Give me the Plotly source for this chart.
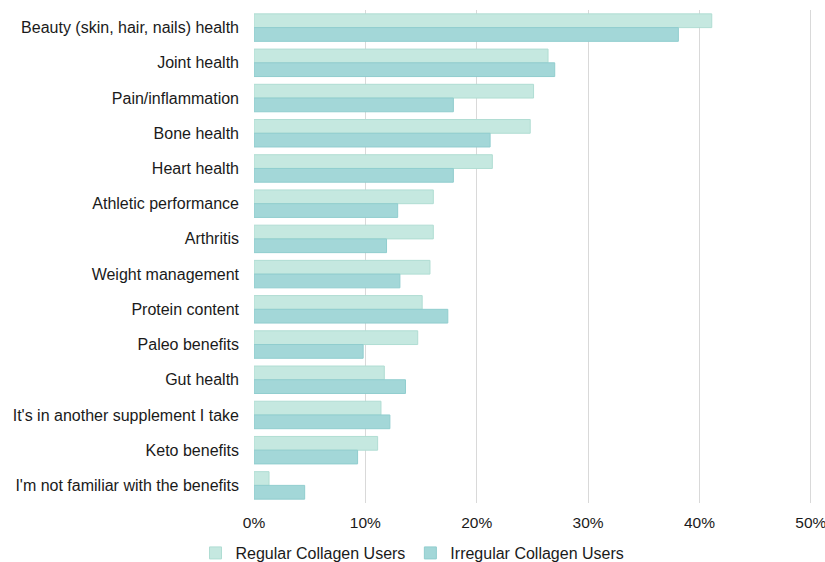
import plotly.graph_objects as go

categories = [
    "Beauty (skin, hair, nails) health",
    "Joint health",
    "Pain/inflammation",
    "Bone health",
    "Heart health",
    "Athletic performance",
    "Arthritis",
    "Weight management",
    "Protein content",
    "Paleo benefits",
    "Gut health",
    "It's in another supplement I take",
    "Keto benefits",
    "I'm not familiar with the benefits",
]
regular = [41.1, 26.4, 25.1, 24.8, 21.4, 16.1, 16.1, 15.8, 15.1, 14.7, 11.7, 11.4, 11.1, 1.35]
irregular = [38.1, 27.0, 17.9, 21.2, 17.9, 12.9, 11.9, 13.1, 17.4, 9.8, 13.6, 12.2, 9.3, 4.55]
x_ticks = [0, 10, 20, 30, 40, 50]
x_tick_labels = ["0%", "10%", "20%", "30%", "40%", "50%"]

fig = go.Figure()
fig.add_trace(go.Bar(
    y=categories, x=regular, orientation="h", name="Regular Collagen Users",
    marker=dict(color="#c5e8e0", line=dict(color="#b0ddd3", width=1)),
))
fig.add_trace(go.Bar(
    y=categories, x=irregular, orientation="h", name="Irregular Collagen Users",
    marker=dict(color="#a3d7d8", line=dict(color="#90cdce", width=1)),
))

font_family = "Liberation Sans, Arial, sans-serif"
fig.update_layout(
    width=825, height=562,
    margin=dict(l=254, r=13, t=10, b=59),
    barmode="group", bargap=0.22, bargroupgap=0,
    plot_bgcolor="white", paper_bgcolor="white",
    font=dict(family=font_family, size=16, color="#1a1a1a"),
    xaxis=dict(
        range=[0, 50.1], tickvals=x_ticks, ticktext=x_tick_labels,
        showgrid=True, gridcolor="#d9d9d9", gridwidth=1,
        zeroline=False, showline=False, ticks="",
        tickfont=dict(size=15.5), ticklabelstandoff=8,
        ticklabeloverflow="allow", automargin=False,
    ),
    yaxis=dict(
        autorange="reversed", showgrid=False, showline=False, ticks="",
        ticklabelstandoff=14, tickfont=dict(size=16), automargin=False,
    ),
    showlegend=True,
    legend=dict(
        orientation="h", xref="container", yref="container",
        x=0.5, xanchor="center", y=0.016, yanchor="middle",
        traceorder="normal", font=dict(size=16), itemwidth=30,
    ),
)

fig.write_html("out.html")
